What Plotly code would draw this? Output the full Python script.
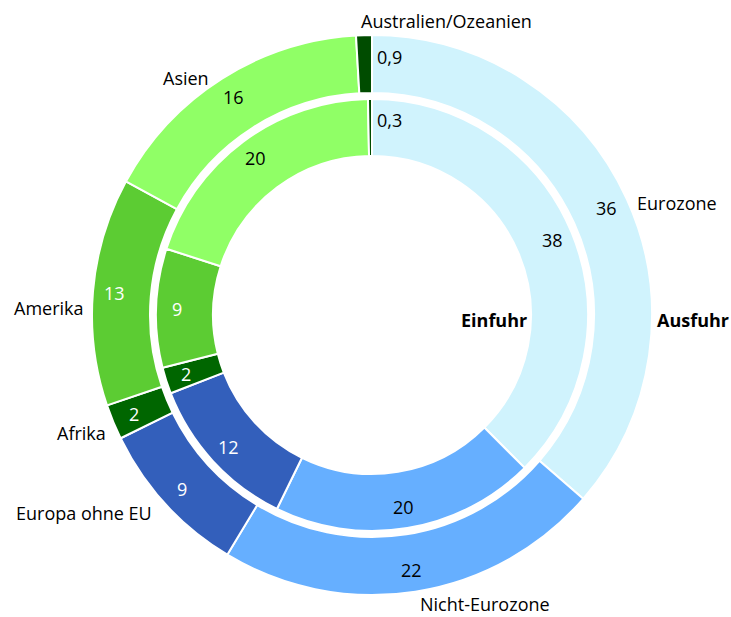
import math
import plotly.graph_objects as go

# ---- data ----
regions = ["Eurozone", "Nicht-Eurozone", "Europa ohne EU", "Afrika",
           "Amerika", "Asien", "Australien/Ozeanien"]
ausfuhr = [36, 22, 9, 2, 13, 16, 0.9]     # outer ring (exports)
einfuhr = [38, 20, 12, 2, 9, 20, 0.3]     # inner ring (imports)
ausfuhr_text = ["36", "22", "9", "2", "13", "16", "0,9"]
einfuhr_text = ["38", "20", "12", "2", "9", "20", "0,3"]

# ---- styles ----
colors = ["#D0F3FD", "#66AFFF", "#335FBB", "#006600", "#5CCC33", "#90FF66", "#004C00"]
text_colors = ["#000000", "#000000", "#FFFFFF", "#FFFFFF", "#FFFFFF", "#000000", "#000000"]

W, H = 731, 617
CX, CY = 372, 315
R_OUT, R_OUT_IN = 280, 222
R_IN, R_IN_IN = 216, 159
FONT = "Open Sans"

def dom(r):
    return dict(x=[(CX - r) / W, (CX + r) / W],
                y=[(H - CY - r) / H, (H - CY + r) / H])

fig = go.Figure()
fig.add_trace(go.Pie(values=ausfuhr, labels=regions, sort=False, direction="clockwise",
                     rotation=0, hole=R_OUT_IN / R_OUT, domain=dom(R_OUT),
                     marker=dict(colors=colors, line=dict(color="white", width=2)),
                     textinfo="none", hoverinfo="label+value", showlegend=False))
fig.add_trace(go.Pie(values=einfuhr, labels=regions, sort=False, direction="clockwise",
                     rotation=0, hole=R_IN_IN / R_IN, domain=dom(R_IN),
                     marker=dict(colors=colors, line=dict(color="white", width=2)),
                     textinfo="none", hoverinfo="label+value", showlegend=False))

annotations = []

def px(x, y, text, anchor="center", size=18, color="#000", bold=False):
    annotations.append(dict(x=x / W, y=1 - y / H, xref="paper", yref="paper",
                            text=f"<b>{text}</b>" if bold else text, showarrow=False,
                            xanchor=anchor, yanchor="middle",
                            font=dict(family=FONT, size=size, color=color)))

def value_labels(vals, texts, r_label):
    total = sum(vals)
    cum = 0
    for i, (v, t) in enumerate(zip(vals, texts)):
        if v < 1:
            # tiny slice: label just right of the 12 o'clock boundary
            px(CX + 3, CY - r_label, t, anchor="left", color=text_colors[i])
        else:
            a = math.radians((cum + v / 2) / total * 360)
            px(CX + r_label * math.sin(a), CY - r_label * math.cos(a), t,
               color=text_colors[i])
        cum += v

value_labels(ausfuhr, ausfuhr_text, 258)
value_labels(einfuhr, einfuhr_text, 195)

# category names
px(635, 203, "Eurozone", anchor="left")
px(418, 604, "Nicht-Eurozone", anchor="left")
px(14, 513, "Europa ohne EU", anchor="left")
px(55, 433, "Afrika", anchor="left")
px(12, 308, "Amerika", anchor="left")
px(161, 78, "Asien", anchor="left")
px(359, 21, "Australien/Ozeanien", anchor="left")

px(529, 320, "Einfuhr", anchor="right", bold=True)
px(655, 320, "Ausfuhr", anchor="left", bold=True)

fig.update_layout(width=W, height=H, margin=dict(l=0, r=0, t=0, b=0),
                  paper_bgcolor="white", plot_bgcolor="white",
                  annotations=annotations, showlegend=False)

fig.write_html("out.html", config={"displayModeBar": False},
               post_script="document.body.style.margin='0';document.body.style.overflow='hidden';")
